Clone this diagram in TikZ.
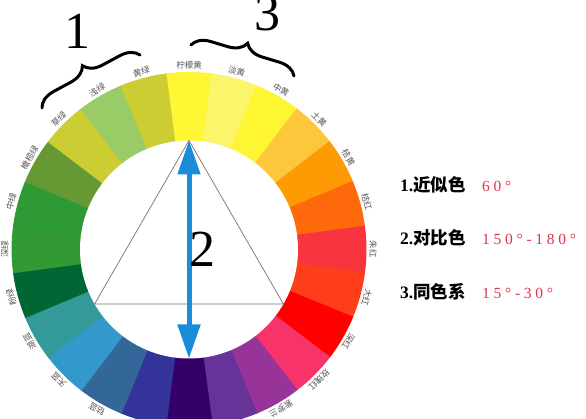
\documentclass[tikz,border=0pt]{standalone}
\usepackage{fontspec}
\setmainfont{Liberation Serif}
\newfontfamily\cjk{Noto Sans CJK SC}
\newfontfamily\rednum[LetterSpace=24]{Liberation Serif}
\usetikzlibrary{arrows.meta,decorations.pathreplacing}
\definecolor{c0}{HTML}{FFF733}
\definecolor{c1}{HTML}{FAF56B}
\definecolor{c2}{HTML}{FFF633}
\definecolor{c3}{HTML}{FDC73B}
\definecolor{c4}{HTML}{FE9A04}
\definecolor{c5}{HTML}{FE690C}
\definecolor{c6}{HTML}{F8343F}
\definecolor{c7}{HTML}{FE3D1A}
\definecolor{c8}{HTML}{FE0000}
\definecolor{c9}{HTML}{F8336A}
\definecolor{c10}{HTML}{983399}
\definecolor{c11}{HTML}{663399}
\definecolor{c12}{HTML}{320066}
\definecolor{c13}{HTML}{333399}
\definecolor{c14}{HTML}{336699}
\definecolor{c15}{HTML}{3399CC}
\definecolor{c16}{HTML}{339999}
\definecolor{c17}{HTML}{006633}
\definecolor{c18}{HTML}{339933}
\definecolor{c19}{HTML}{2E9A35}
\definecolor{c20}{HTML}{669933}
\definecolor{c21}{HTML}{CCCC33}
\definecolor{c22}{HTML}{99CC66}
\definecolor{c23}{HTML}{CCCC33}
\definecolor{arrowblue}{HTML}{1A8CD8}
\definecolor{numred}{HTML}{E4304A}
\definecolor{lblgray}{HTML}{555555}
\tikzset{
  lbl/.style={inner sep=0pt, font=\cjk\fontsize{8.5}{8.5}\selectfont, text=lblgray},
  bignum/.style={inner sep=0pt, font=\fontsize{52}{52}\selectfont, text=black},
  tri/.style={draw=gray!90!black, line width=0.7pt},
  bluearrow/.style={draw=arrowblue, line width=5pt,
    {Triangle[width=22pt,length=34pt,fill=arrowblue]}-{Triangle[width=22pt,length=34pt,fill=arrowblue]}},
  bracestyle/.style={draw=black, line width=3pt, line cap=round,
    decorate, decoration={brace, amplitude=18pt, aspect=0.5}},
  keytext/.style={anchor=base west, inner sep=0pt, font=\bfseries\fontsize{17.5}{17.5}\selectfont},
  valtext/.style={anchor=base west, inner sep=0pt, text=numred, font=\rednum\fontsize{15.5}{15.5}\selectfont}
}
\begin{document}
\begin{tikzpicture}[x=1pt,y=1pt]
\useasboundingbox (0,0) rectangle (586,419);
\def\cx{189}\def\cy{169.5}\def\Ro{177.5}\def\Ri{109}
\coordinate (C) at (\cx,\cy);
% colour wheel sectors
\foreach \k in {0,...,23} {
  \pgfmathsetmacro\aa{90-15*\k+7.7}
  \pgfmathsetmacro\ab{90-15*\k-7.7}
  \fill[c\k] (C) -- ++(\aa:\Ro) arc[start angle=\aa, end angle=\ab, radius=\Ro] -- cycle;
}
\fill[white] (C) circle[radius=\Ri];
% labels
\foreach \k/\t in {0/柠檬黄,1/淡黄,2/中黄,3/土黄,4/桔黄,5/桔红,6/朱红,7/大红,8/深红,9/玫瑰红,10/紫罗兰,14/钴蓝,15/天蓝,16/湖蓝,17/粉绿,18/深绿,19/中绿,20/橄榄绿,21/草绿,22/浅绿,23/黄绿} {
  \pgfmathsetmacro\a{90-15*\k}
  \pgfmathsetmacro\r{\a-90}
  \node[lbl, rotate=\r] (L\k) at ([shift={(\a:184)}]C) {\t};
}
% triangle
\coordinate (T1) at ([shift={(90:\Ri)}]C);
\coordinate (T2) at ([shift={(210:\Ri)}]C);
\coordinate (T3) at ([shift={(330:\Ri)}]C);
\coordinate (B) at ([shift={(270:\Ri)}]C);
\draw[tri] (T1) -- (T2) -- (T3) -- cycle;
\draw[bluearrow] (T1) -- (B);
% braces
\coordinate (b1s) at (42,311);
\coordinate (b1e) at (140,364);
\coordinate (b3s) at (191,374);
\coordinate (b3e) at (294,343);
\draw[bracestyle] (b1s) -- (b1e);
\draw[bracestyle] (b3s) -- (b3e);
% big numbers
\node[bignum] (n1) at (77,387.5) {1};
\node[bignum] (n2) at (202.5,169.5) {2};
\node[bignum] (n3) at (267,405) {3};
% key
\node[keytext] (k1) at (400,227) {1.{\cjk\bfseries 近似色}};
\node[valtext] (v1) at (482,227) {60°};
\node[keytext] (k2) at (400,174) {2.{\cjk\bfseries 对比色}};
\node[valtext] (v2) at (482,174) {150°-180°};
\node[keytext] (k3) at (400,120) {3.{\cjk\bfseries 同色系}};
\node[valtext] (v3) at (482,120) {15°-30°};
\end{tikzpicture}
\end{document}
